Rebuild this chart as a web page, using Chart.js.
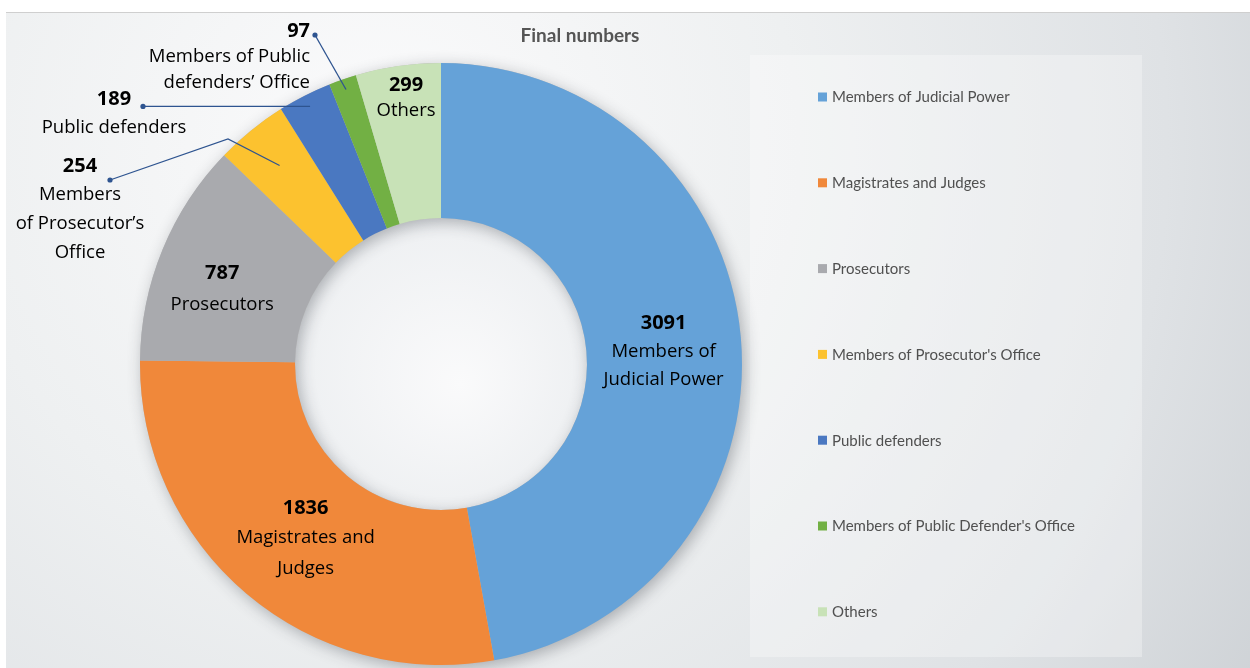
<!DOCTYPE html>
<html><head><meta charset="utf-8">
<script src="https://cdn.jsdelivr.net/npm/chart.js@4.4.1/dist/chart.umd.min.js"></script>
<style>html,body{margin:0;padding:0;background:#fff;overflow:hidden}#wrap{width:1250px;height:668px;position:relative}</style>
</head><body><div id="wrap"><canvas id="c" width="1250" height="668"></canvas></div>
<script>
const categories = ["Members of Judicial Power","Magistrates and Judges","Prosecutors","Members of Prosecutor's Office","Public defenders","Members of Public Defender's Office","Others"];
const values = [3091, 1836, 787, 254, 189, 97, 299];
const labelNames = [["Members of","Judicial Power"],["Magistrates and","Judges"],["Prosecutors"],["Members","of Prosecutor\u2019s","Office"],["Public defenders"],["Members of Public","defenders\u2019 Office"],["Others"]];
const colors = ['#65a2d8','#f0883a','#a9aaae','#fcc22f','#4a78c1','#72b044','#c8e2b7'];
const chartTitle = "Final numbers";

// label layout (annotation placement only)
const labelLayout = [
  {mode:'in', dx:0, dy:-22, gaps:[30,28]},
  {mode:'in', dx:9, dy:-27, gaps:[30,31]},
  {mode:'in', dx:-12, dy:-7, gaps:[33]},
  {mode:'out', tx:80, ty:165, align:'center', gaps:[30,29,29], dot:[110,180], elbow:[228,139], rf:0.85},
  {mode:'out', tx:114, ty:98, align:'center', gaps:[30], dot:[143,null], rf:0.96},
  {mode:'out', tx:310, ty:30, align:'right', gaps:[27,26], dot:[315,35], rf:0.965},
  {mode:'in', dx:-3, dy:-59, gaps:[27]}
];

const LABEL_FONT = '"Open Sans", sans-serif';
const LEGEND_FONT = 'Lato, sans-serif';

const decor = {
  id:'decor',
  beforeDraw(chart){
    const ctx = chart.ctx; ctx.save();
    ctx.fillStyle = '#ffffff'; ctx.fillRect(0,0,chart.width,chart.height);
    const g = ctx.createRadialGradient(380,150,0,380,150,1050);
    g.addColorStop(0,'#fbfbfc'); g.addColorStop(0.4,'#eef0f1'); g.addColorStop(0.75,'#dfe2e5'); g.addColorStop(1,'#cdd1d5');
    ctx.fillStyle = g; ctx.fillRect(6,13,chart.width-6,chart.height-13);
    ctx.strokeStyle = '#cfcfcf'; ctx.lineWidth = 1;
    ctx.beginPath(); ctx.moveTo(6,12.5); ctx.lineTo(chart.width,12.5); ctx.stroke();
    ctx.fillStyle = 'rgba(255,255,255,0.3)'; ctx.fillRect(750,55,392,602);
    // title
    ctx.fillStyle = '#555555'; ctx.font = 'bold 19px ' + LEGEND_FONT;
    ctx.textAlign = 'center'; ctx.textBaseline = 'middle';
    ctx.fillText(chartTitle, 580, 36);
    // legend
    ctx.font = '15px ' + LEGEND_FONT; ctx.textAlign = 'left';
    chart.data.labels.forEach((lab,i)=>{
      const y = 97 + i*85.8;
      ctx.fillStyle = chart.data.datasets[0].backgroundColor[i];
      ctx.fillRect(818, y-4.5, 9, 9);
      ctx.fillStyle = '#505050';
      ctx.fillText(lab, 832, y+0.5);
    });
    ctx.restore();
  },
  beforeDatasetsDraw(chart){
    const ctx = chart.ctx;
    const a = chart.getDatasetMeta(0).data[0];
    const {x,y,outerRadius,innerRadius} = a.getProps(['x','y','outerRadius','innerRadius'], true);
    ctx.save();
    const hg = ctx.createRadialGradient(x+20,y+20,0,x,y,innerRadius);
    hg.addColorStop(0,'#fafafb'); hg.addColorStop(1,'#eef0f2');
    ctx.fillStyle = hg; ctx.beginPath(); ctx.arc(x,y,innerRadius+2,0,Math.PI*2); ctx.fill();
    ctx.shadowColor = 'rgba(40,45,55,0.35)'; ctx.shadowBlur = 16; ctx.shadowOffsetX = 3; ctx.shadowOffsetY = 4;
    ctx.beginPath(); ctx.arc(x,y,outerRadius,0,Math.PI*2); ctx.arc(x,y,innerRadius,0,Math.PI*2,true);
    ctx.fillStyle = '#bbbbbb'; ctx.fill('evenodd');
    ctx.restore();
  },
  afterDatasetsDraw(chart){
    const ctx = chart.ctx; ctx.save();
    const ds = chart.data.datasets[0];
    chart.getDatasetMeta(0).data.forEach((arc,i)=>{
      const p = arc.getProps(['x','y','startAngle','endAngle','innerRadius','outerRadius'], true);
      const mid = (p.startAngle + p.endAngle)/2;
      const L = labelLayout[i];
      const lines = [String(ds.data[i])].concat(labelNames[i]);
      let tx, ty, align = 'center';
      if (L.mode === 'in') {
        const r = (p.innerRadius + p.outerRadius)/2;
        tx = p.x + Math.cos(mid)*r + L.dx;
        ty = p.y + Math.sin(mid)*r + L.dy;
      } else {
        tx = L.tx; ty = L.ty; align = L.align;
        const r = p.outerRadius * L.rf;
        const ex = p.x + Math.cos(mid)*r, ey = p.y + Math.sin(mid)*r;
        const dx = L.dot[0], dy = (L.dot[1] === null) ? ey : L.dot[1];
        ctx.strokeStyle = '#2e5490'; ctx.lineWidth = 1.3;
        ctx.beginPath(); ctx.moveTo(dx,dy);
        if (L.elbow) ctx.lineTo(L.elbow[0], L.elbow[1]);
        ctx.lineTo(ex,ey); ctx.stroke();
        ctx.fillStyle = '#2e5490'; ctx.beginPath(); ctx.arc(dx,dy,2.6,0,Math.PI*2); ctx.fill();
      }
      ctx.textAlign = align; ctx.textBaseline = 'middle'; ctx.fillStyle = '#000';
      let yy = ty;
      lines.forEach((t,k)=>{
        ctx.font = (k===0 ? 'bold 20px ' : '18.5px ') + LABEL_FONT;
        if (k>0) yy += L.gaps[k-1];
        ctx.fillText(t, tx, yy + (k===0 ? 1 : 0));
      });
    });
    ctx.restore();
  }
};

new Chart(document.getElementById('c'), {
  type:'doughnut',
  data:{ labels: categories, datasets:[{ data: values, backgroundColor: colors, borderWidth:0, hoverOffset:0 }] },
  options:{
    responsive:false, animation:false, devicePixelRatio:1,
    cutout:'48.5%',
    layout:{ padding:{ top:63, bottom:3, left:140, right:508 } },
    plugins:{ legend:{display:false}, tooltip:{enabled:false}, title:{display:false} },
    events:[]
  },
  plugins:[decor]
});
</script>
</body></html>
